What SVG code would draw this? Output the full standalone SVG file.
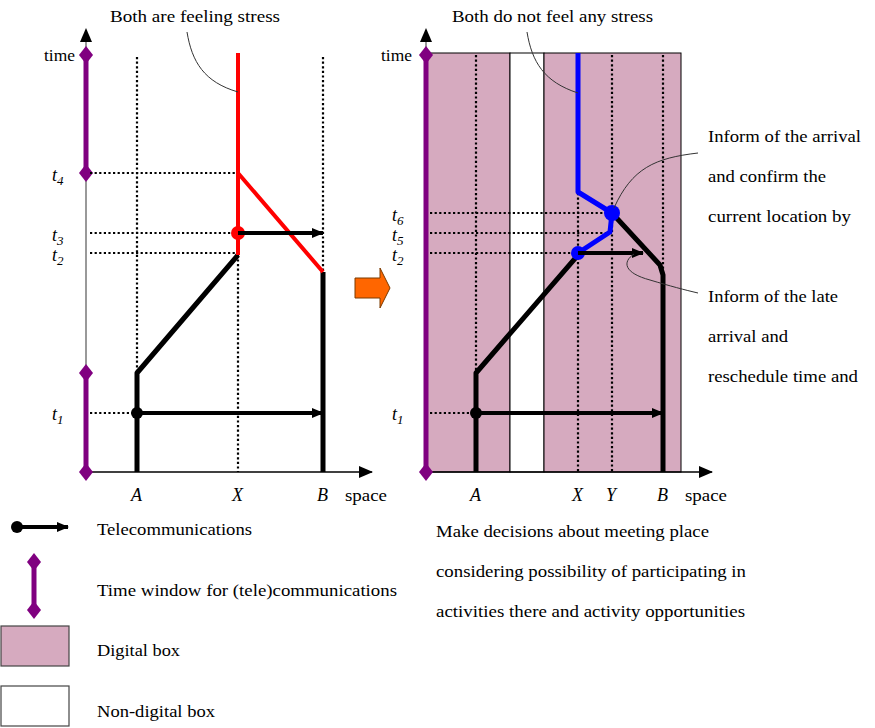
<svg xmlns="http://www.w3.org/2000/svg" width="875" height="728" viewBox="0 0 875 728" font-family="'Liberation Serif', 'DejaVu Serif', serif" font-size="17">
<defs>
<marker id="ah" markerWidth="12" markerHeight="10" refX="11" refY="5" orient="auto" markerUnits="userSpaceOnUse"><path d="M0,0 L12,5 L0,10 Z" fill="#000"/></marker>
<marker id="ax" markerWidth="14" markerHeight="12" refX="13" refY="6" orient="auto" markerUnits="userSpaceOnUse"><path d="M0,0 L14,6 L0,12 Z" fill="#000"/></marker>
<path id="dia" d="M0,-9 L7,0 L0,9 L-7,0 Z" fill="#800080"/>
</defs>
<style>
text{font-family:'Liberation Serif','DejaVu Serif',serif;font-size:17px;fill:#000}
.it{font-style:italic;font-size:18px}
.sub{font-size:13px}
.dot{stroke:#000;stroke-width:2.2;stroke-dasharray:2.2,2.4;fill:none}
.traj{stroke:#000;stroke-width:5;fill:none;stroke-linejoin:round}
.tele{stroke:#000;stroke-width:4;fill:none}
.pur{stroke:#800080;stroke-width:5;fill:none}
.call{stroke:#333;stroke-width:1;fill:none}
.box{fill:#D6AABF;stroke:#000;stroke-width:1}
</style>

<!-- LEFT PANEL -->
<g id="left-axes">
<line x1="86" y1="472" x2="86" y2="30" stroke="#555" stroke-width="1.2"/>
<path d="M80,42 L86,28 L92,42 Z" fill="#000"/>
<line x1="86" y1="472" x2="372" y2="472" stroke="#000" stroke-width="1.5" marker-end="url(#ax)"/>
<line class="pur" x1="86" y1="55" x2="86" y2="173"/>
<line class="pur" x1="86" y1="373" x2="86" y2="472"/>
<use href="#dia" x="86" y="55"/><use href="#dia" x="86" y="173"/>
<use href="#dia" x="86" y="373"/><use href="#dia" x="86" y="472"/>
<text x="44" y="61" textLength="31" lengthAdjust="spacingAndGlyphs">time</text>
<text x="52" y="181" class="it">t<tspan class="sub" dy="4">4</tspan></text>
<text x="52" y="241" class="it">t<tspan class="sub" dy="4">3</tspan></text>
<text x="52" y="261" class="it">t<tspan class="sub" dy="4">2</tspan></text>
<text x="52" y="420" class="it">t<tspan class="sub" dy="4">1</tspan></text>
<text x="131" y="501" class="it">A</text>
<text x="232" y="501" class="it">X</text>
<text x="317" y="501" class="it">B</text>
<text x="345" y="501" textLength="42" lengthAdjust="spacingAndGlyphs">space</text>
</g>
<g id="left-grid">
<line class="dot" x1="137" y1="57" x2="137" y2="472"/>
<line class="dot" x1="238" y1="57" x2="238" y2="472"/>
<line class="dot" x1="323" y1="57" x2="323" y2="472"/>
<line class="dot" x1="90" y1="173" x2="238" y2="173"/>
<line class="dot" x1="90" y1="233" x2="238" y2="233"/>
<line class="dot" x1="90" y1="253" x2="238" y2="253"/>
<line class="dot" x1="90" y1="413" x2="137" y2="413"/>
</g>
<g id="left-paths">
<polyline class="traj" points="137,472 137,373 238,255"/>
<line class="traj" x1="323" y1="472" x2="323" y2="272"/>
<path d="M238,53 L238,255 M238,173 L323,272" stroke="#F00" stroke-width="4" fill="none"/>
<circle cx="238" cy="233" r="7" fill="#F00"/>
<line class="tele" x1="238" y1="233" x2="323" y2="233" marker-end="url(#ah)"/>
<circle cx="137" cy="413" r="6" fill="#000"/>
<line class="tele" x1="137" y1="413" x2="323" y2="413" marker-end="url(#ah)"/>
</g>
<g id="left-note">
<text x="110" y="22" textLength="170" lengthAdjust="spacingAndGlyphs">Both are feeling stress</text>
<path class="call" d="M187,32 C192,62 204,82 238,92"/>
</g>

<!-- ORANGE ARROW -->
<g id="transition-arrow">
<path d="M355,278 L380,278 L380,268 L390,288 L380,308 L380,298 L355,298 Z" fill="#FF6600" stroke="#7a3a00" stroke-width="1"/>
</g>

<!-- RIGHT PANEL -->
<g id="right-boxes">
<rect class="box" x="426" y="53" width="84" height="419"/>
<rect x="510" y="53" width="34" height="419" fill="#fff" stroke="#000" stroke-width="1"/>
<rect class="box" x="544" y="53" width="137" height="419"/>
</g>
<g id="right-grid">
<line class="dot" x1="476" y1="55" x2="476" y2="472"/>
<line class="dot" x1="578" y1="55" x2="578" y2="472"/>
<line class="dot" x1="612" y1="55" x2="612" y2="472"/>
<line class="dot" x1="663" y1="55" x2="663" y2="472"/>
<line class="dot" x1="430" y1="213" x2="612" y2="213"/>
<line class="dot" x1="430" y1="233" x2="612" y2="233"/>
<line class="dot" x1="430" y1="253" x2="578" y2="253"/>
<line class="dot" x1="430" y1="413" x2="476" y2="413"/>
</g>
<g id="right-axes">
<line x1="426" y1="472" x2="426" y2="30" stroke="#555" stroke-width="1.2"/>
<path d="M420,42 L426,28 L432,42 Z" fill="#000"/>
<line x1="426" y1="472" x2="712" y2="472" stroke="#000" stroke-width="1.5" marker-end="url(#ax)"/>
<line class="pur" x1="426" y1="55" x2="426" y2="472"/>
<use href="#dia" x="426" y="55"/><use href="#dia" x="426" y="472"/>
<text x="381" y="61" textLength="31" lengthAdjust="spacingAndGlyphs">time</text>
<text x="392" y="221" class="it">t<tspan class="sub" dy="4">6</tspan></text>
<text x="392" y="241" class="it">t<tspan class="sub" dy="4">5</tspan></text>
<text x="392" y="261" class="it">t<tspan class="sub" dy="4">2</tspan></text>
<text x="392" y="420" class="it">t<tspan class="sub" dy="4">1</tspan></text>
<text x="470" y="501" class="it">A</text>
<text x="572" y="501" class="it">X</text>
<text x="606" y="501" class="it">Y</text>
<text x="657" y="501" class="it">B</text>
<text x="685" y="501" textLength="42" lengthAdjust="spacingAndGlyphs">space</text>
</g>
<g id="right-paths">
<polyline class="traj" points="476,472 476,373 578,255"/>
<polyline class="traj" points="612,213 660,265 663,275 663,472"/>
<polyline points="578,53 578,192 612,213 610,232 578,253" stroke="#00F" stroke-width="5" fill="none" stroke-linejoin="round"/>
<circle cx="612" cy="213" r="8" fill="#00F"/>
<circle cx="578" cy="253" r="7" fill="#00F"/>
<line class="tele" x1="578" y1="253" x2="643" y2="253" marker-end="url(#ah)"/>
<circle cx="476" cy="413" r="6" fill="#000"/>
<line class="tele" x1="476" y1="413" x2="663" y2="413" marker-end="url(#ah)"/>
</g>
<g id="right-notes">
<text x="452" y="22" textLength="201" lengthAdjust="spacingAndGlyphs">Both do not feel any stress</text>
<path class="call" d="M527,32 C532,62 544,82 578,93"/>
<text x="708" y="142" textLength="153" lengthAdjust="spacingAndGlyphs">Inform of the arrival</text>
<text x="708" y="182" textLength="118" lengthAdjust="spacingAndGlyphs">and confirm the</text>
<text x="708" y="222" textLength="143" lengthAdjust="spacingAndGlyphs">current location by</text>
<path class="call" d="M698,153 C655,158 632,168 614,208"/>
<text x="708" y="302" textLength="130" lengthAdjust="spacingAndGlyphs">Inform of the late</text>
<text x="708" y="342" textLength="80" lengthAdjust="spacingAndGlyphs">arrival and</text>
<text x="708" y="382" textLength="150" lengthAdjust="spacingAndGlyphs">reschedule time and</text>
<path class="call" d="M634,254 C622,262 624,273 650,280 C670,286 685,290 698,293"/>
<text x="436" y="537" textLength="273" lengthAdjust="spacingAndGlyphs">Make decisions about meeting place</text>
<text x="436" y="577" textLength="310" lengthAdjust="spacingAndGlyphs">considering possibility of participating in</text>
<text x="436" y="617" textLength="309" lengthAdjust="spacingAndGlyphs">activities there and activity opportunities</text>
</g>

<!-- LEGEND -->
<g id="legend-tele">
<circle cx="17" cy="527" r="6" fill="#000"/>
<line class="tele" x1="17" y1="527" x2="68" y2="527" marker-end="url(#ah)"/>
<text x="97" y="535" textLength="155" lengthAdjust="spacingAndGlyphs">Telecommunications</text>
</g>
<g id="legend-window">
<line class="pur" x1="34" y1="562" x2="34" y2="610"/>
<use href="#dia" x="34" y="562"/><use href="#dia" x="34" y="610"/>
<text x="97" y="596" textLength="300" lengthAdjust="spacingAndGlyphs">Time window for (tele)communications</text>
</g>
<g id="legend-digital">
<rect x="1" y="626" width="68" height="40" fill="#D6AABF" stroke="#444" stroke-width="1.2"/>
<text x="97" y="656" textLength="83" lengthAdjust="spacingAndGlyphs">Digital box</text>
</g>
<g id="legend-nondigital">
<rect x="1" y="686" width="68" height="40" fill="#fff" stroke="#444" stroke-width="1.2"/>
<text x="97" y="717" textLength="118" lengthAdjust="spacingAndGlyphs">Non-digital box</text>
</g>
</svg>
